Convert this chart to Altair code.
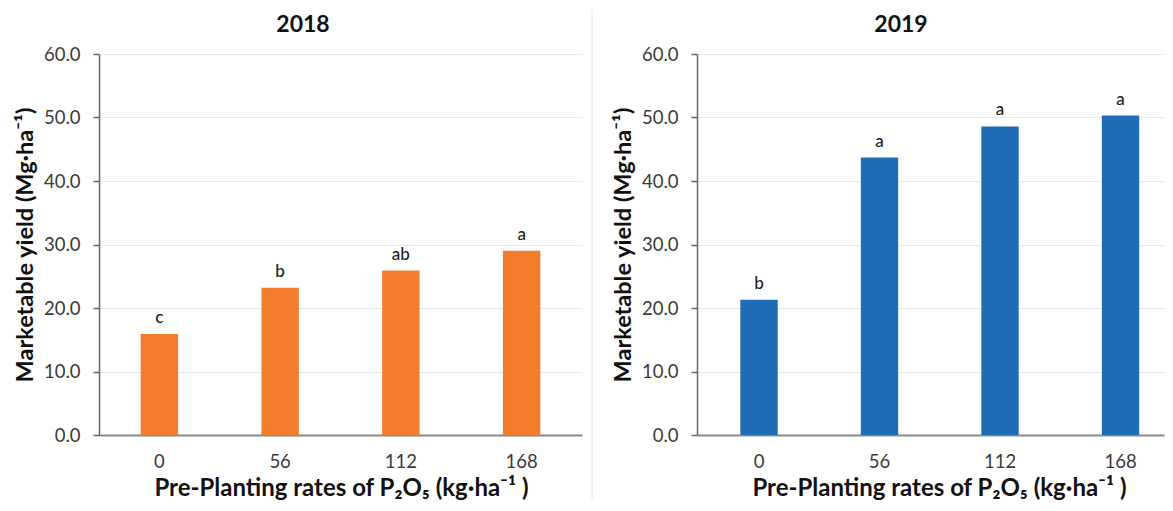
import altair as alt
import pandas as pd

# ---- data ----
rates = ["0", "56", "112", "168"]
yield_2018 = [15.9, 23.2, 25.9, 29.0]
yield_2019 = [21.3, 43.7, 48.6, 50.3]
letters_2018 = ["c", "b", "ab", "a"]
letters_2019 = ["b", "a", "a", "a"]
years = ["2018", "2019"]
y_ticks = [0, 10, 20, 30, 40, 50, 60]

y_title = "Marketable yield (Mg·ha⁻¹)"
x_title = "Pre-Planting rates of P₂O₅ (kg·ha⁻¹ )"

FONT = "Lato"
H = 381
W_LEFT = 483
W_RIGHT = 467


def panel(values, letters, year, color, width, x_scale, separator):
    df = pd.DataFrame({"rate": rates, "yield": values, "letter": letters})
    x = alt.X(
        "rate:N",
        sort=rates,
        scale=x_scale,
        axis=alt.Axis(
            title=x_title,
            labelAngle=0,
            ticks=False,
            tickSize=0,
            labelPadding=17,
            labelFontSize=18.5,
            labelFont=FONT,
            labelColor="#3a3a3a",
            titleFont=FONT,
            titleFontSize=24,
            titleFontWeight="bold",
            titleColor="#111111",
            titlePadding=6,
            titleX=242,
            domainColor="#8a8a8a",
            domainWidth=2,
            grid=False,
        ),
    )
    y = alt.Y(
        "yield:Q",
        scale=alt.Scale(domain=[0, 60], nice=False),
        axis=alt.Axis(
            title=y_title,
            values=y_ticks,
            format=".1f",
            labelFontSize=18.5,
            labelFont=FONT,
            labelColor="#3a3a3a",
            labelPadding=13,
            tickSize=6,
            tickColor="#666666",
            tickWidth=1.5,
            domainColor="#666666",
            domainWidth=1.5,
            titleFont=FONT,
            titleFontSize=23.5,
            titleFontWeight="bold",
            titleColor="#111111",
            titlePadding=6,
            grid=True,
            gridColor="#e9e9e9",
            gridWidth=1,
        ),
    )
    base = alt.Chart(df)
    bars = base.mark_bar(color=color).encode(x=x, y=y)
    text = base.mark_text(
        dy=-16, baseline="middle", fontSize=17, font=FONT, color="#222222",
        fontWeight=500,
    ).encode(x=alt.X("rate:N", sort=rates), y=alt.Y("yield:Q"), text="letter:N")
    title = (
        alt.Chart(pd.DataFrame({"t": [year]}))
        .mark_text(fontSize=23, fontWeight="bold", font=FONT, color="#111111",
                   baseline="middle", align="center")
        .encode(x=alt.value(204), y=alt.value(-29), text="t:N")
    )
    layers = [bars, text, title]
    if separator:
        sep = (
            alt.Chart(pd.DataFrame({"s": [0]}))
            .mark_rule(color="#e4e4e4", strokeWidth=1)
            .encode(x=alt.value(width + 10), y=alt.value(-45), y2=alt.value(446))
        )
        layers.append(sep)
    else:
        top = (
            alt.Chart(pd.DataFrame({"s": [0]}))
            .mark_rule(color="#ffffff", strokeWidth=0.1, opacity=0)
            .encode(x=alt.value(10), y=alt.value(-45), y2=alt.value(-44))
        )
        layers.append(top)
    return alt.layer(*layers).properties(width=width, height=H)


left = panel(
    yield_2018, letters_2018, years[0], "#F47D2D", W_LEFT,
    alt.Scale(paddingInner=0.69, paddingOuter=0.345), True,
)
right = panel(
    yield_2019, letters_2019, years[1], "#1F6BB5", W_RIGHT,
    alt.Scale(paddingInner=0.69, paddingOuter=0.2826, align=0.636), False,
)

chart = (
    alt.hconcat(left, right, spacing=17)
    .properties(padding={"left": 4, "top": 0, "right": 0, "bottom": 0})
    .configure_view(stroke="transparent")
)

chart.save("out.html", embed_options={"renderer": "svg", "actions": False})
